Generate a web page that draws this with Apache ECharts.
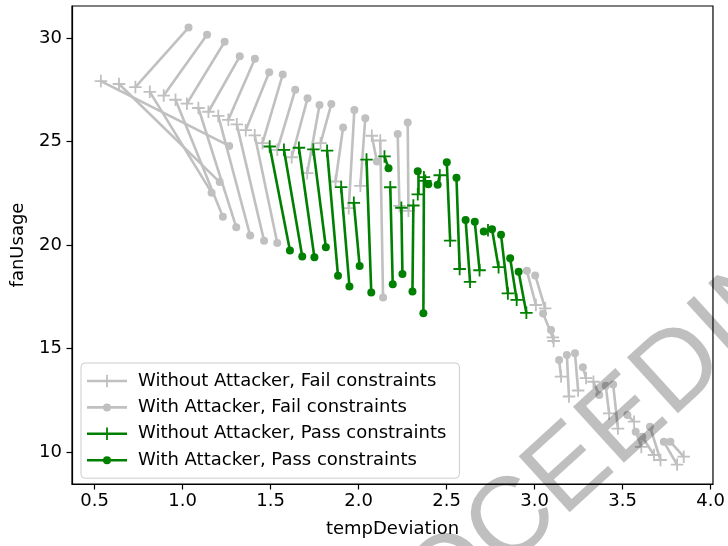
<!DOCTYPE html>
<html><head><meta charset="utf-8">
<script src="https://cdn.jsdelivr.net/npm/echarts@6/dist/echarts.min.js"></script>
<style>html,body{margin:0;padding:0;background:#fff}#c{width:728px;height:546px}</style>
</head><body><div id="c"></div>
<script>
const xTicks = [0.5, 1.0, 1.5, 2.0, 2.5, 3.0, 3.5, 4.0];
const yTicks = [10, 15, 20, 25, 30];

// Fail constraints: pairs (Without Attacker -> With Attacker), by index
const failWithoutX = [0.536,0.639,0.732,0.814,0.893,0.960,1.025,1.090,1.147,1.203,1.260,1.308,1.359,1.410,1.454,1.538,1.620,1.708,1.784,1.869,1.944,2.010,2.075,2.123,2.232,2.283,
  3.007,3.060,3.103,3.108,3.150,3.195,3.247,3.292,3.334,3.423,3.473,3.565,3.606,3.678,3.715,3.809,3.847];
const failWithoutY = [27.92,27.78,27.63,27.40,27.22,27.02,26.83,26.62,26.44,26.24,26.05,25.83,25.55,25.30,24.92,24.60,24.24,23.47,24.92,23.07,21.78,22.86,25.28,25.05,21.89,21.65,
  17.10,16.94,15.54,15.36,13.64,12.68,12.97,13.57,13.39,11.86,11.13,11.46,10.24,9.85,9.61,9.39,9.77];
const failWithX = [1.265,1.211,1.034,1.165,1.139,1.229,1.239,1.305,1.325,1.384,1.411,1.463,1.492,1.538,1.569,1.640,1.710,1.778,1.845,1.912,1.976,2.038,2.104,2.139,2.222,2.279,
  2.956,3.003,3.048,3.093,3.139,3.183,3.229,3.274,3.367,3.404,3.446,3.527,3.574,3.611,3.655,3.734,3.771];
const failWithY = [24.79,23.04,30.51,22.53,30.16,21.36,29.82,20.86,29.12,20.46,29.00,20.21,28.35,20.10,28.24,27.50,27.09,26.77,26.81,25.68,26.53,26.13,24.03,17.46,25.37,25.92,
  18.75,18.53,16.69,15.89,14.44,14.69,14.77,14.09,12.75,13.20,13.26,11.78,10.98,10.73,11.22,10.49,10.49];

// Pass constraints
const passWithoutX = [1.495,1.576,1.661,1.743,1.821,1.901,1.973,2.045,2.147,2.180,2.243,2.311,2.336,2.371,2.379,2.461,2.520,2.574,2.633,2.687,2.735,2.795,2.848,2.898,2.953];
const passWithoutY = [24.76,24.60,24.70,24.62,24.56,22.80,22.04,24.13,24.28,22.79,21.80,21.91,22.45,23.28,23.10,23.37,20.21,18.84,18.22,18.78,20.71,18.93,17.66,17.35,16.72];
const passWithX = [1.610,1.680,1.749,1.814,1.883,1.948,2.006,2.072,2.170,2.194,2.249,2.306,2.336,2.368,2.396,2.449,2.501,2.556,2.608,2.660,2.711,2.758,2.809,2.861,2.909];
const passWithY = [19.73,19.44,19.41,19.89,18.51,18.00,18.99,17.70,23.71,18.10,18.60,17.75,23.56,16.70,22.94,22.91,24.00,23.25,21.21,21.12,20.65,20.76,20.50,19.36,18.71];

const seriesNames = ['Without Attacker, Fail constraints','With Attacker, Fail constraints','Without Attacker, Pass constraints','With Attacker, Pass constraints'];
const watermarkText = 'PROCEEDINGS';
const GREY = '#c0c0c0', GREEN = '#008000';

const zip = (xs, ys) => xs.map((x, i) => [x, ys[i]]);
const segs = (ax, ay, bx, by) => ax.map((x, i) => ({coords: [[x, ay[i]], [bx[i], by[i]]]}));

const PLUS = 'path://M8.55,0H11.45V8.55H20V11.45H11.45V20H8.55V11.45H0V8.55H8.55Z';
const ICON_PLUS = 'path://M0,5.7H40V8.3H0Z M19.1,0.8H20.9V13.2H19.1Z M46,0L46,0Z M46,14L46,14Z M0,0L0,0Z M0,14L0,14Z';
const ICON_DOT = 'path://M0,5.7H40V8.3H0Z M24,7A4,4,0,1,1,16,7A4,4,0,1,1,24,7Z M46,0L46,0Z M46,14L46,14Z M0,0L0,0Z M0,14L0,14Z';

const chart = echarts.init(document.getElementById('c'), null, {renderer: 'canvas'});
const axisFont = {fontFamily: 'DejaVu Sans', fontSize: 18, color: '#000'};
chart.setOption({
  animation: false,
  backgroundColor: '#fff',
  grid: {left: 72, right: 12, top: 6, bottom: 62, show: true, borderColor: '#000', borderWidth: 1.2, backgroundColor: 'transparent'},
  xAxis: {
    type: 'value', min: 0.372, max: 4.013,
    name: 'tempDeviation', nameLocation: 'middle', nameGap: 36, nameTextStyle: axisFont,
    axisLine: {show: true, lineStyle: {color: '#000', width: 1.2}},
    axisTick: {show: true, length: 5.5, lineStyle: {color: '#000', width: 1.2}, customValues: xTicks},
    axisLabel: {margin: 8, customValues: xTicks, formatter: v => v.toFixed(1), ...axisFont},
    splitLine: {show: false}
  },
  yAxis: {
    type: 'value', min: 8.45, max: 31.55,
    name: 'fanUsage', nameLocation: 'middle', nameGap: 45, nameRotate: 90, nameTextStyle: axisFont,
    axisLine: {show: true, lineStyle: {color: '#000', width: 1.2}},
    axisTick: {show: true, length: 5.5, lineStyle: {color: '#000', width: 1.2}, customValues: yTicks},
    axisLabel: {margin: 10, customValues: yTicks, ...axisFont},
    splitLine: {show: false}
  },
  legend: {
    orient: 'vertical', left: 81, top: 363,
    padding: [9, 13, 9, 6],
    itemWidth: 46, itemHeight: 14, itemGap: 8.4,
    backgroundColor: 'rgba(255,255,255,0.8)', borderColor: '#cccccc', borderWidth: 1, borderRadius: 4,
    textStyle: {fontFamily: 'DejaVu Sans', fontSize: 18, color: '#000', lineHeight: 18},
    data: [
      {name: seriesNames[0], icon: ICON_PLUS},
      {name: seriesNames[1], icon: ICON_DOT},
      {name: seriesNames[2], icon: ICON_PLUS},
      {name: seriesNames[3], icon: ICON_DOT}
    ]
  },
  graphic: [{
    type: 'text', x: 608, y: 436, rotation: 0.74, z: 100, silent: true,
    style: {text: watermarkText, fontSize: 110, fontFamily: 'Liberation Sans', fill: 'rgba(0,0,0,0.25)', align: 'center', verticalAlign: 'middle'}
  }],
  series: [
    {type: 'lines', coordinateSystem: 'cartesian2d', silent: true, z: 2,
     lineStyle: {color: GREY, width: 2.6, opacity: 1}, data: segs(failWithoutX, failWithoutY, failWithX, failWithY)},
    {type: 'scatter', name: seriesNames[0], z: 3, symbol: PLUS, symbolSize: 12.5,
     itemStyle: {color: GREY, opacity: 1}, data: zip(failWithoutX, failWithoutY)},
    {type: 'scatter', name: seriesNames[1], z: 3, symbol: 'circle', symbolSize: 8,
     itemStyle: {color: GREY, opacity: 1}, data: zip(failWithX, failWithY)},
    {type: 'lines', coordinateSystem: 'cartesian2d', silent: true, z: 4,
     lineStyle: {color: GREEN, width: 2.6, opacity: 1}, data: segs(passWithoutX, passWithoutY, passWithX, passWithY)},
    {type: 'scatter', name: seriesNames[2], z: 5, symbol: PLUS, symbolSize: 12.5,
     itemStyle: {color: GREEN, opacity: 1}, data: zip(passWithoutX, passWithoutY)},
    {type: 'scatter', name: seriesNames[3], z: 5, symbol: 'circle', symbolSize: 8,
     itemStyle: {color: GREEN, opacity: 1}, data: zip(passWithX, passWithY)}
  ]
});
</script>
</body></html>
